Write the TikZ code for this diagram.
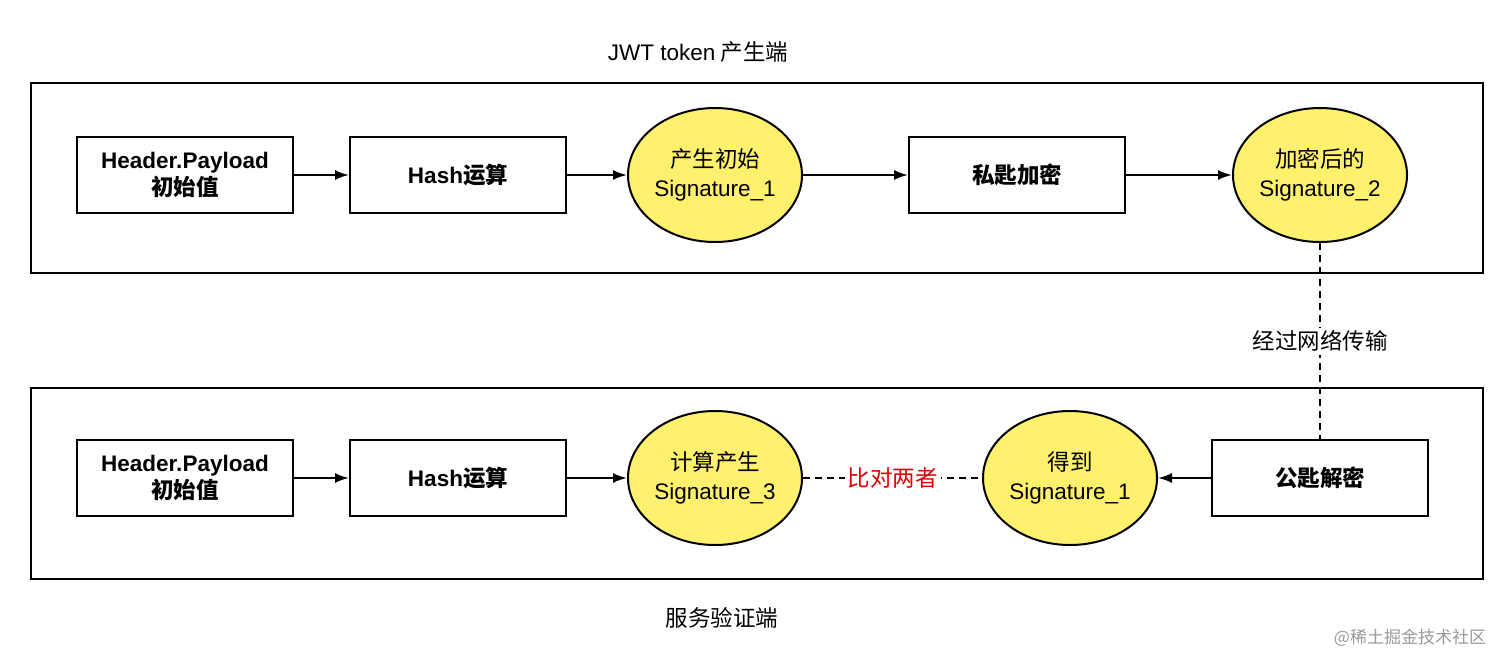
\documentclass[tikz,border=0pt]{standalone}
\usepackage{fontspec}
\setmainfont{Noto Sans CJK SC}
\newfontfamily\lat{Liberation Sans}
\usetikzlibrary{shapes.geometric,arrows.meta}
\definecolor{fillY}{HTML}{FFF06E}
\tikzset{
 frame/.style={draw,line width=2pt},
 box/.style={draw,line width=2pt,minimum width=216pt,minimum height=76pt,font=\fontsize{22.5}{27}\selectfont\bfseries,align=center},
 ell/.style={draw,line width=2pt,ellipse,fill=fillY,minimum width=174pt,minimum height=134pt,font=\fontsize{22.5}{29}\selectfont,align=center,inner sep=0pt},
 arr/.style={-{Latex[length=14pt,width=10pt]},line width=2pt},
 dsh/.style={line width=2pt,dash pattern=on 7pt off 5pt},
 lbl/.style={font=\fontsize{22.5}{27}\selectfont}
}
\begin{document}
\begin{tikzpicture}[x=1pt,y=-1pt]
\useasboundingbox (0,0) rectangle (1512,670);
\node[frame,minimum width=1452pt,minimum height=190pt,anchor=north west] (f1) at (30,82) {};
\node[frame,minimum width=1452pt,minimum height=191pt,anchor=north west] (f2) at (30,387) {};
\node[lbl] (t1) at (698,52) {{\lat JWT token} 产生端};
\node[lbl] (t2) at (722,618) {服务验证端};
\node[box] (a1) at (185,175) {{\lat Header.Payload}\\初始值};
\node[box] (a2) at (458,175) {{\lat Hash}运算};
\node[ell] (a3) at (715,175) {产生初始\\{\lat Signature\_1}};
\node[box] (a4) at (1017,175) {私匙加密};
\node[ell] (a5) at (1320,175) {加密后的\\{\lat Signature\_2}};
\node[box] (b1) at (185,478) {{\lat Header.Payload}\\初始值};
\node[box] (b2) at (458,478) {{\lat Hash}运算};
\node[ell] (b3) at (715,478) {计算产生\\{\lat Signature\_3}};
\node[ell] (b4) at (1070,478) {得到\\{\lat Signature\_1}};
\node[box] (b5) at (1320,478) {公匙解密};
\draw[arr] (a1) -- (a2);
\draw[arr] (a2) -- (a3);
\draw[arr] (a3) -- (a4);
\draw[arr] (a4) -- (a5);
\draw[arr] (b1) -- (b2);
\draw[arr] (b2) -- (b3);
\draw[arr] (b5) -- (b4);
\draw[dsh] (a5) -- node[fill=white,lbl,inner sep=3pt] {经过网络传输} (b5);
\draw[dsh] (b3) -- node[fill=white,lbl,text=red!85!black,inner sep=3pt] {比对两者} (b4);
\node[font=\fontsize{17}{20}\selectfont,text=black!40] (wm) at (1410,638) {@稀土掘金技术社区};
\end{tikzpicture}
\end{document}
